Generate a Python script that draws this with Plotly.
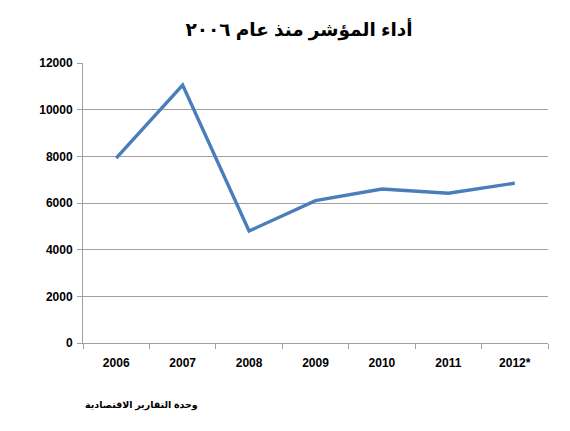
import plotly.graph_objects as go

years = ["2006", "2007", "2008", "2009", "2010", "2011", "2012*"]
values = [7920, 11050, 4800, 6100, 6600, 6420, 6850]
y_ticks = [0, 2000, 4000, 6000, 8000, 10000, 12000]
title_text = "أداء المؤشر منذ عام ٢٠٠٦"
source_text = "وحدة التقارير الاقتصادية"

FONT = "Liberation Sans, Arial, DejaVu Sans, sans-serif"
GRID = "#a0a0a0"

fig = go.Figure()
fig.add_trace(go.Scatter(
    x=years, y=values, mode="lines",
    line=dict(color="#4a7ebb", width=3.4),
    hoverinfo="skip",
))

fig.update_layout(
    width=570, height=431,
    margin=dict(l=75, r=30, t=55, b=96),
    paper_bgcolor="white", plot_bgcolor="white",
    showlegend=False,
    font=dict(family=FONT, color="black"),
    title=dict(
        text="<b>" + title_text + "</b>",
        xref="container", yref="container",
        x=291 / 570, y=1 - 22 / 431,
        xanchor="center", yanchor="middle",
        font=dict(size=18.5, family=FONT, color="black"),
    ),
    xaxis=dict(
        type="category",
        showline=True, linecolor=GRID, linewidth=1,
        ticks="outside", tickson="boundaries", ticklen=5, tickcolor=GRID,
        showgrid=False,
        ticklabelstandoff=9,
        tickfont=dict(size=12, family=FONT, color="black", weight="bold"),
        range=[-0.5, 6.5],
    ),
    yaxis=dict(
        range=[0, 12000],
        tickvals=y_ticks,
        ticktext=[str(v) for v in y_ticks],
        showline=True, linecolor=GRID, linewidth=1,
        ticks="outside", ticklen=5, tickcolor=GRID,
        showgrid=True, gridcolor=GRID, gridwidth=1,
        zeroline=False,
        ticklabelstandoff=2,
        tickfont=dict(size=12, family=FONT, color="black", weight="bold"),
    ),
    annotations=[dict(
        text="<b>" + source_text + "</b>",
        xref="paper", yref="paper",
        x=0.0, y=-62 / 280,
        xanchor="left", yanchor="middle",
        showarrow=False,
        font=dict(size=9.5, family=FONT, color="black"),
    )],
)

fig.write_html("out.html")
